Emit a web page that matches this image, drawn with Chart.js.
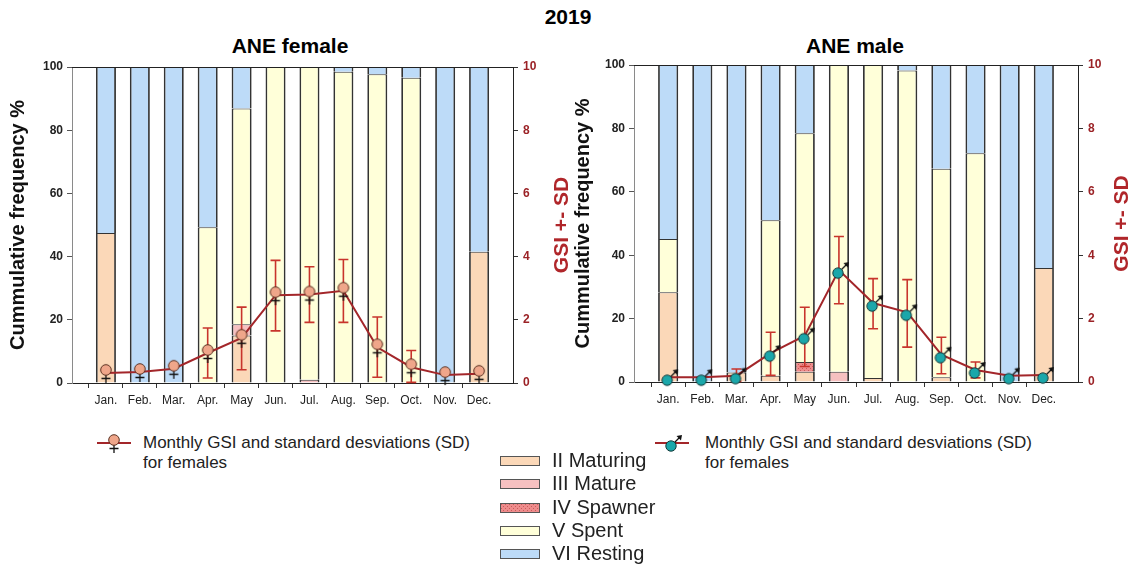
<!DOCTYPE html>
<html>
<head>
<meta charset="utf-8">
<script src="https://cdn.jsdelivr.net/npm/chart.js@4"></script>
<style>
  body { margin: 0; width: 1138px; height: 570px; background: #fff; position: relative; overflow: hidden;
         font-family: Arial, "Liberation Sans", sans-serif; }
  canvas.chart { position: absolute; top: 30px; }
  .t { position: absolute; font-weight: bold; color: #000; transform: translate(-50%, -50%); white-space: nowrap; }
  .leg { position: absolute; font-size: 17px; line-height: 20px; color: #222; }
  .sym { position: absolute; }
  .stage { position: absolute; left: 500px; font-size: 20px; line-height: 23px; color: #222; }
  .stage div { height: 23.3px; position: relative; padding-left: 52px; }
  .stage span.box { position: absolute; left: 0; top: 7px; width: 38px; height: 8px; border: 1px solid #555; }
</style>
</head>
<body>
<div class="t" style="left:568px; top:17px; font-size:21px;">2019</div>
<div class="t" style="left:290px; top:46px; font-size:21px;">ANE female</div>
<div class="t" style="left:855px; top:46px; font-size:21px;">ANE male</div>

<canvas id="female" class="chart" width="570" height="395" style="left:0px;"></canvas>
<canvas id="male" class="chart" width="570" height="395" style="left:568px;"></canvas>

<canvas id="symF" class="sym" width="44" height="30" style="left:92px; top:428px;"></canvas>
<div class="leg" style="left:143px; top:433px;">Monthly GSI and standard desviations (SD)<br>for females</div>
<canvas id="symM" class="sym" width="44" height="30" style="left:650px; top:428px;"></canvas>
<div class="leg" style="left:705px; top:433px;">Monthly GSI and standard desviations (SD)<br>for females</div>

<div class="stage" id="stageLegend" style="top:449px;"></div>

<script>
// months and stage names
const months = ['Jan.', 'Feb.', 'Mar.', 'Apr.', 'May', 'Jun.', 'Jul.', 'Aug.', 'Sep.', 'Oct.', 'Nov.', 'Dec.'];
const stageNames = ['II Maturing', 'III Mature', 'IV Spawner', 'V Spent', 'VI Resting'];

// ANE female - cumulative frequency of stages (%)
const femMaturing = [47.5, 0, 0, 0, 15, 0, 0, 0, 0, 0, 0, 41.5];
const femMature   = [0, 0, 0, 0, 3.6, 0, 1, 0, 0, 0, 0, 0];
const femSpawner  = [0, 0, 0, 0, 0, 0, 0, 0, 0, 0, 0, 0];
const femSpent    = [0, 0, 0, 49.3, 68.3, 100, 99, 98.5, 97.7, 96.6, 0, 0];
const femResting  = [52.5, 100, 100, 50.7, 13.1, 0, 0, 1.5, 2.3, 3.4, 100, 58.5];
// female GSI and SD limits
const femGsi   = [0.32, 0.35, 0.45, 0.95, 1.43, 2.78, 2.8, 2.92, 1.13, 0.5, 0.25, 0.29];
const femSdTop = [null, null, null, 1.74, 2.4, 3.88, 3.68, 3.91, 2.09, 1.03, null, null];
const femSdBot = [null, null, null, 0.16, 0.42, 1.65, 1.92, 1.92, 0.18, 0.02, null, null];

// ANE male - cumulative frequency of stages (%)
const maleMaturing = [28.3, 0, 3, 2, 3.2, 0, 1.3, 0, 1.5, 0, 0, 36];
const maleMature   = [0, 0, 0, 0, 0, 3.2, 0, 0, 0, 0, 0, 0];
const maleSpawner  = [0, 0, 0, 0, 3.1, 0, 0, 0, 0, 0, 0, 0];
const maleSpent    = [16.8, 0, 0, 49, 72.2, 96.8, 98.7, 98.3, 65.8, 72.2, 0, 0];
const maleResting  = [54.9, 100, 97, 49, 21.5, 0, 0, 1.7, 32.7, 27.8, 100, 64];
// male GSI and SD limits
const maleGsi   = [0.15, 0.15, 0.2, 0.91, 1.46, 3.53, 2.49, 2.2, 0.86, 0.38, 0.2, 0.22];
const maleSdTop = [null, null, 0.41, 1.57, 2.36, 4.59, 3.26, 3.23, 1.41, 0.63, null, null];
const maleSdBot = [null, null, 0.02, 0.21, 0.49, 2.47, 1.68, 1.1, 0.26, 0.13, null, null];

const lineRed = '#A3262A';
const errRed = '#C8342C';
const gsiRed = '#B0262A';
const font = 'Arial, "Liberation Sans", sans-serif';
Chart.defaults.font.family = font;

// dotted fill for spawner
const patCanvas = document.createElement('canvas');
patCanvas.width = 4; patCanvas.height = 4;
const pg = patCanvas.getContext('2d');
pg.fillStyle = '#EE8C8C'; pg.fillRect(0, 0, 4, 4);
pg.fillStyle = '#C95A5A'; pg.fillRect(0, 0, 1, 1); pg.fillRect(2, 2, 1, 1);
const spawnerFill = pg.createPattern(patCanvas, 'repeat');

const stageColors = ['#FBD8B8', '#F6C0C0', spawnerFill, '#FFFFD9', '#BDDBF8'];

// female symbol: circle above a cross
const femaleMarker = () => {
    const c = document.createElement('canvas');
    c.width = 28; c.height = 28;
    const g = c.getContext('2d');
    const x = 14, y = 14;
    g.strokeStyle = '#111'; g.lineWidth = 1.3;
    g.beginPath();
    g.moveTo(x, y); g.lineTo(x, y + 10);
    g.moveTo(x - 4.5, y + 5.5); g.lineTo(x + 4.5, y + 5.5);
    g.stroke();
    g.beginPath(); g.arc(x, y - 3, 5.3, 0, Math.PI * 2);
    g.fillStyle = '#EFA68A'; g.fill();
    g.strokeStyle = '#5a3020'; g.lineWidth = 1; g.stroke();
    return c;
};

// male symbol: circle with arrow to upper right
const maleMarker = () => {
    const c = document.createElement('canvas');
    c.width = 30; c.height = 30;
    const g = c.getContext('2d');
    const x = 14, y = 18;
    g.strokeStyle = '#111'; g.lineWidth = 1.3;
    g.beginPath(); g.moveTo(x + 3, y - 3); g.lineTo(x + 9, y - 9); g.stroke();
    g.beginPath(); g.moveTo(x + 11, y - 11); g.lineTo(x + 5.5, y - 10); g.lineTo(x + 10, y - 5.5); g.closePath();
    g.fillStyle = '#111'; g.fill();
    g.beginPath(); g.arc(x, y, 5.2, 0, Math.PI * 2);
    g.fillStyle = '#1BA7AA'; g.fill();
    g.strokeStyle = '#163a3a'; g.lineWidth = 1; g.stroke();
    return c;
};

const pad = a => [null, ...a, null];

// error bars drawn just before the GSI line
const errorBars = {
    id: 'errorBars',
    beforeDatasetDraw(chart, args) {
        const ds = chart.data.datasets[args.index];
        if (!ds.sdTop) return;
        const y1 = chart.scales.y1, c = chart.ctx;
        c.save();
        c.strokeStyle = errRed; c.lineWidth = 1.6;
        args.meta.data.forEach((p, i) => {
            const hi = ds.sdTop[i], lo = ds.sdBot[i];
            if (hi == null) return;
            const yt = y1.getPixelForValue(hi), yb = y1.getPixelForValue(lo);
            c.beginPath();
            c.moveTo(p.x, yt); c.lineTo(p.x, yb);
            c.moveTo(p.x - 5, yt); c.lineTo(p.x + 5, yt);
            c.moveTo(p.x - 5, yb); c.lineTo(p.x + 5, yb);
            c.stroke();
        });
        c.restore();
    }
};

// top frame line and right axis title (reads bottom to top)
const frame = {
    id: 'frame',
    afterDraw(chart, args, opts) {
        const { ctx, chartArea: a } = chart;
        ctx.save();
        ctx.strokeStyle = '#222'; ctx.lineWidth = 1;
        ctx.beginPath(); ctx.moveTo(a.left, a.top + 0.5); ctx.lineTo(a.right, a.top + 0.5); ctx.stroke();
        ctx.translate(opts.titleX, (a.top + a.bottom) / 2);
        ctx.rotate(-Math.PI / 2);
        ctx.fillStyle = gsiRed;
        ctx.font = 'bold 21px ' + font;
        ctx.textAlign = 'center'; ctx.textBaseline = 'middle';
        ctx.fillText('GSI +- SD', 0, 0);
        ctx.restore();
    }
};

const buildChart = (id, stages, gsi, sdTop, sdBot, marker, box) => {
    const ctx = document.getElementById(id).getContext('2d');
    const bars = stageNames.map((name, i) => ({
        type: 'bar',
        label: name,
        data: pad(stages[i]),
        backgroundColor: stageColors[i],
        borderColor: '#333',
        borderWidth: { left: 1.8, right: 1.8, top: 1, bottom: 0 },
        yAxisID: 'y',
        order: 1
    }));
    return new Chart(ctx, {
        data: {
            labels: pad(months).map(m => m || ''),
            datasets: [{
                type: 'line',
                label: 'GSI',
                data: pad(gsi),
                sdTop: pad(sdTop),
                sdBot: pad(sdBot),
                yAxisID: 'y1',
                borderColor: lineRed,
                borderWidth: 2,
                pointStyle: marker,
                pointRadius: 6,
                clip: false,
                order: 0
            }, ...bars]
        },
        options: {
            responsive: false,
            animation: false,
            devicePixelRatio: 1,
            layout: { padding: { top: box.top, left: 0, right: 0, bottom: 0 } },
            datasets: { bar: { categoryPercentage: 1, barPercentage: 0.59 } },
            plugins: { legend: { display: false }, tooltip: { enabled: false }, frame: { titleX: box.titleX } },
            scales: {
                x: {
                    offset: false,
                    stacked: true,
                    grid: {
                        drawOnChartArea: false, tickLength: 5,
                        tickColor: c => (c.index === 0 || c.index === 13) ? 'rgba(0,0,0,0)' : '#333'
                    },
                    border: { color: '#222' },
                    ticks: { autoSkip: false, maxRotation: 0, color: '#222', font: { size: 12 }, padding: 5 },
                    afterFit: s => { s.height = box.xh; }
                },
                y: {
                    stacked: true,
                    min: 0, max: 100,
                    grid: { drawOnChartArea: false, tickLength: 5, tickColor: '#555' },
                    border: { color: '#8a8a8a' },
                    ticks: { stepSize: 20, color: '#222', font: { size: 12, weight: 'bold' }, padding: 4 },
                    title: {
                        display: true, text: 'Cummulative frequency %', color: '#111',
                        font: { size: 20, weight: 'bold' }, padding: { top: box.titlePad, bottom: 0 }
                    },
                    afterFit: s => { s.width = box.yw; }
                },
                y1: {
                    position: 'right',
                    min: 0, max: 10,
                    grid: { drawOnChartArea: false, tickLength: 5, tickColor: '#333' },
                    border: { color: '#222' },
                    ticks: { stepSize: 2, color: '#9B2226', font: { size: 12, weight: 'bold' }, padding: 5 },
                    afterFit: s => { s.width = box.y1w; }
                }
            }
        },
        plugins: [errorBars, frame]
    });
};

buildChart('female',
    [femMaturing, femMature, femSpawner, femSpent, femResting],
    femGsi, femSdTop, femSdBot, femaleMarker(),
    { yw: 72, y1w: 57, top: 37, xh: 42, titlePad: 6, titleX: 562 });

buildChart('male',
    [maleMaturing, maleMature, maleSpawner, maleSpent, maleResting],
    maleGsi, maleSdTop, maleSdBot, maleMarker(),
    { yw: 66, y1w: 60, top: 35, xh: 43, titlePad: 3, titleX: 554 });

// legend symbols
const drawSym = (id, img) => {
    const g = document.getElementById(id).getContext('2d');
    g.strokeStyle = lineRed; g.lineWidth = 2;
    g.beginPath(); g.moveTo(5, 15); g.lineTo(39, 15); g.stroke();
    g.drawImage(img, 22 - img.width / 2, 15 - img.height / 2);
};
drawSym('symF', femaleMarker());
drawSym('symM', maleMarker());

// stage legend
const stageLegend = document.getElementById('stageLegend');
const patUrl = patCanvas.toDataURL();
stageNames.forEach((name, i) => {
    const row = document.createElement('div');
    const sw = document.createElement('span');
    sw.className = 'box';
    if (i === 2) sw.style.background = 'url(' + patUrl + ')';
    else sw.style.background = stageColors[i];
    row.appendChild(sw);
    row.appendChild(document.createTextNode(name));
    stageLegend.appendChild(row);
});
</script>
</body>
</html>
